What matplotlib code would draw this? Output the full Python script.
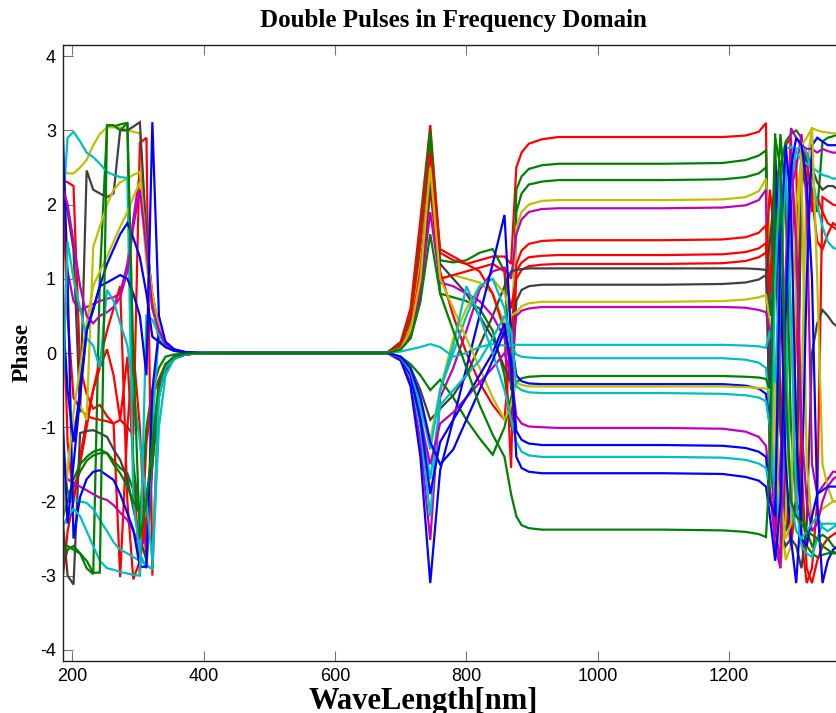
"""
Double pulses in frequency domain: phase vs wavelength, one curve per pulse pair.
"""

import numpy as np
import matplotlib.pyplot as plt

plt.rcParams["axes.unicode_minus"] = False

# ── MATLAB-style line colours ────────────────────────────────────────────────
C_B = (0.0, 0.0, 1.0)
C_G = (0.0, 0.5, 0.0)
C_R = (1.0, 0.0, 0.0)
C_C = (0.0, 0.75, 0.75)
C_M = (0.75, 0.0, 0.75)
C_Y = (0.75, 0.75, 0.0)
C_K = (0.25, 0.25, 0.25)

LINE_COLORS = [C_R, C_G, C_G, C_Y, C_M, C_R, C_R, C_R, C_K, C_K, C_Y, C_M,
               C_C, C_C, C_G, C_B, C_Y, C_C, C_M, C_B, C_C, C_B, C_G]

# ── Wavelength samples (nm), per region ──────────────────────────────────────
X_LEFT = [186, 193, 202, 212, 222, 232, 242, 253, 263, 273, 284, 293, 303,
          313, 322, 332, 342, 355, 372, 395]
X_MID = [680, 700, 715, 730, 745, 760, 780, 800, 820, 840, 858, 868, 876,
         884, 895, 915, 940]
X_PLAT = [1000, 1100, 1190, 1225, 1245, 1256]
X_RIGHT = [1262, 1270, 1278, 1286, 1294, 1302, 1310, 1318, 1326, 1334, 1342,
           1350, 1358, 1366, 1380]

# ── Phase values (rad), one row per curve ────────────────────────────────────
PHASE_LEFT = [
    [2.33, 2.30, 2.25, -0.20, -0.55, -0.75, -0.70, -0.85, -0.95, -0.90, -0.05, -1.50, -3.00, -1.20, -0.60, -0.35, -0.15, -0.06, -0.02, 0.00],
    [-2.90, -2.65, -2.60, -2.70, -2.90, -2.98, 1.00, 3.05, 3.05, 3.08, 3.10, -1.50, -2.20, -1.00, -0.50, -0.20, -0.05, -0.02, -0.01, 0.00],
    [-1.20, -1.90, -1.80, -1.60, -1.45, -1.38, -1.35, -1.35, -1.45, -1.55, -1.62, -1.85, -2.16, -2.50, -1.20, -0.50, -0.20, -0.07, -0.02, 0.00],
    [2.46, 2.42, 2.42, 2.50, 2.60, 2.80, 2.95, 3.04, 3.04, 3.04, 3.00, 2.98, 2.96, 1.30, 0.70, 0.30, 0.12, 0.04, 0.01, 0.00],
    [1.60, 1.10, 0.70, 0.58, 0.62, 0.66, 0.70, 0.73, 0.75, 0.80, 1.20, 1.80, 2.42, 1.50, 0.80, 0.35, 0.15, 0.05, 0.015, 0.00],
    [-3.00, -2.40, -2.00, -1.40, -0.90, -0.50, -0.20, 0.05, -0.30, -0.90, -1.00, -1.10, 2.83, 2.90, -3.00, -0.40, -0.20, -0.07, -0.02, 0.00],
    [2.20, 0.50, -0.60, -0.75, -0.85, -0.88, -0.90, -0.92, -0.95, -3.02, -1.00, 0.04, -1.00, -2.90, -1.50, -0.45, -0.22, -0.08, -0.02, 0.00],
    [0.90, -1.20, -1.98, -1.50, -1.00, -0.50, -0.10, 0.30, 0.60, 0.90, -2.00, -3.05, -2.80, -2.20, -1.30, -0.55, -0.25, -0.08, -0.02, 0.00],
    [2.33, 1.90, 1.39, -0.80, 2.46, 2.20, 2.15, 2.10, 2.15, 3.00, 3.00, 3.05, 3.11, 1.60, 0.70, 0.17, 0.08, 0.03, 0.01, 0.00],
    [-2.30, -3.00, -3.12, -1.08, -1.05, -1.04, -1.08, -1.13, -1.30, -1.44, -1.70, -2.10, -2.50, -2.79, -1.40, -0.50, -0.20, -0.07, -0.02, 0.00],
    [-2.00, -1.50, -1.00, -0.70, -0.90, 1.43, 1.70, 2.00, 2.20, 2.30, 2.35, 2.40, 2.44, 1.40, 0.80, 0.35, 0.12, 0.04, 0.01, 0.00],
    [-1.60, -1.70, -1.75, -1.80, -1.85, -1.90, -1.95, -1.98, -2.05, -2.15, -2.25, -2.40, -2.61, -2.50, -1.50, -0.50, -0.20, -0.05, -0.02, 0.00],
    [2.00, 2.90, 2.98, 2.85, 2.70, 2.64, 2.55, 2.44, 2.40, 2.37, 2.36, -2.00, -2.70, -2.90, -1.00, 0.30, 0.12, 0.04, 0.01, 0.00],
    [-1.85, -1.90, -1.98, -2.00, -2.02, -2.10, -2.25, -2.40, -2.55, -2.65, -2.70, -2.75, -2.80, -2.85, -2.92, -1.00, -0.30, -0.08, -0.02, 0.00],
    [-2.20, -2.00, -1.70, -1.50, -1.40, -1.33, -1.30, -1.35, -1.50, -1.62, -1.80, -2.00, -2.16, -1.90, -1.50, -0.60, -0.20, -0.06, -0.02, 0.00],
    [2.90, 1.00, -2.50, -1.94, -1.70, -1.60, -1.58, -1.65, -1.71, -1.90, -2.16, -2.38, -2.88, -2.88, -0.50, 0.30, 0.12, 0.04, 0.01, 0.00],
    [-2.20, -1.60, -0.80, -0.20, 0.40, 0.90, 1.10, 1.30, 1.50, 1.70, 1.90, 2.10, 2.30, 1.20, 0.60, 0.25, 0.10, 0.03, 0.01, 0.00],
    [-2.34, -2.20, -2.10, -2.20, -2.40, -2.60, -2.80, -2.90, -2.92, -2.95, -2.97, -2.99, -3.00, 0.50, 0.45, 0.25, 0.10, 0.03, 0.01, 0.00],
    [2.20, 2.00, 1.50, 0.90, 0.50, 0.40, 0.50, 0.55, 0.62, 0.75, 1.10, 1.70, 2.20, 1.40, 0.60, 0.30, 0.12, 0.04, 0.01, 0.00],
    [0.50, -0.50, -1.20, -0.50, 0.30, 0.58, 0.90, 1.20, 1.40, 1.60, 1.75, 1.55, 1.29, 0.80, 0.22, 0.15, 0.08, 0.03, 0.01, 0.00],
    [-0.50, 1.50, 1.00, 0.60, 0.20, 0.10, -0.20, 0.85, 0.70, 0.40, 0.10, -0.50, -1.20, -2.00, -2.80, -0.60, -0.20, -0.06, -0.02, 0.00],
    [-1.00, -2.30, -1.50, -0.60, 0.30, 0.60, 0.90, 0.95, 1.00, 1.05, 1.00, 0.80, 0.50, -0.30, 3.11, 0.50, 0.15, 0.05, 0.01, 0.00],
    [-2.65, -2.60, -2.65, -2.70, -2.80, -2.96, -2.96, 3.07, 3.07, 3.00, 3.10, 0.00, -2.50, -2.00, -1.20, -0.40, -0.15, -0.05, -0.01, 0.00],
]

PHASE_MID = [
    [0.01, 0.15, 0.6, 1.8, 3.07, 1.35, 1.25, 1.2, 1.25, 1.3, 1.3, 1.2, 2.5, 2.7, 2.82, 2.88, 2.91],
    [0.01, 0.12, 0.5, 1.6, 3.0, 1.25, 1.22, 1.25, 1.35, 1.4, 1.1, -0.5, 2.2, 2.38, 2.48, 2.53, 2.55],
    [0.0, 0.1, 0.4, 1.4, 2.9, 0.8, 0.75, 0.7, 0.6, 0.3, -0.3, -1.0, 1.9, 2.15, 2.27, 2.31, 2.33],
    [0.0, 0.08, 0.35, 1.2, 2.6, 1.0, 1.05, 1.0, 0.95, 0.8, 0.4, 0.0, 1.7, 1.9, 2.0, 2.05, 2.06],
    [0.0, -0.1, -0.4, -1.2, -2.52, -0.6, -0.2, 0.3, 0.85, 1.1, 1.15, 1.0, 1.6, 1.8, 1.9, 1.94, 1.95],
    [0.0, 0.1, 0.45, 1.5, 2.7, 1.4, 1.3, 1.2, 1.1, 0.8, 0.3, -1.55, 1.2, 1.38, 1.47, 1.51, 1.52],
    [0.0, 0.08, 0.3, 1.1, 2.4, 1.1, 0.5, 0.0, -0.4, -0.7, -0.9, 0.2, 1.1, 1.22, 1.29, 1.31, 1.32],
    [0.0, 0.06, 0.25, 0.9, 2.2, 1.0, 1.05, 1.1, 1.15, 1.2, 1.1, 0.6, 1.0, 1.12, 1.17, 1.19, 1.2],
    [0.0, -0.05, -0.2, -0.5, -0.9, -0.75, -0.57, -0.3, 0.1, 0.5, 0.9, 1.1, 1.12, 1.13, 1.14, 1.14, 1.14],
    [0.0, 0.05, 0.2, 0.7, 2.3, 1.2, 1.0, 0.8, 0.5, 0.2, -0.2, -0.4, 0.7, 0.85, 0.9, 0.92, 0.92],
    [0.0, -0.05, -0.2, -0.6, -1.17, -0.5, 0.2, 0.6, 0.9, 1.0, 0.8, 0.5, 0.55, 0.63, 0.67, 0.69, 0.69],
    [0.0, 0.05, 0.25, 0.8, 1.9, 0.95, 0.9, 0.8, 0.7, 0.5, 0.2, -0.2, 0.5, 0.57, 0.6, 0.62, 0.62],
    [0.0, 0.02, 0.05, 0.08, 0.12, 0.08, -0.05, 0.0, 0.08, 0.12, 0.1, 0.1, 0.11, 0.11, 0.11, 0.11, 0.11],
    [0.0, -0.08, -0.3, -1.0, -2.2, -0.5, 0.0, 0.5, 0.9, 1.0, 0.6, 0.1, -0.02, -0.05, -0.06, -0.07, -0.07],
    [0.0, -0.05, -0.15, -0.3, -0.5, -0.36, -0.6, -0.9, -1.15, -1.37, -1.0, -0.6, -0.4, -0.34, -0.32, -0.31, -0.31],
    [0.0, -0.1, -0.45, -1.4, -3.1, -1.58, -0.9, -0.2, 0.5, 1.2, 1.86, 0.2, -0.3, -0.38, -0.41, -0.42, -0.42],
    [0.0, 0.06, 0.3, 1.0, 2.5, 1.0, 0.6, 0.2, -0.2, -0.6, -0.9, -0.7, -0.4, -0.43, -0.45, -0.45, -0.45],
    [0.0, -0.06, -0.25, -0.8, -1.7, -0.7, -0.5, -0.3, -0.1, 0.2, 0.5, 0.3, -0.45, -0.5, -0.53, -0.54, -0.54],
    [0.0, -0.08, -0.3, -0.9, -1.5, -0.95, -0.8, -0.6, -0.4, -0.2, 0.0, -0.3, -0.85, -0.95, -0.99, -1.0, -1.01],
    [0.0, -0.07, -0.3, -0.9, -1.9, -1.2, -0.9, -0.6, -0.3, 0.0, 0.4, -0.2, -1.05, -1.17, -1.22, -1.24, -1.24],
    [0.0, -0.06, -0.25, -0.7, -1.3, -0.5, 0.1, 0.9, 0.5, 0.0, -0.5, -0.9, -1.2, -1.33, -1.38, -1.4, -1.4],
    [0.0, -0.05, -0.2, -0.6, -1.2, -1.5, -1.3, -0.9, -0.5, -0.1, 0.3, -0.1, -1.4, -1.55, -1.6, -1.62, -1.62],
    [0.0, 0.05, 0.2, 0.7, 1.6, 0.8, 0.3, -0.2, -0.7, -1.1, -1.4, -1.9, -2.2, -2.32, -2.36, -2.38, -2.38],
]

PHASE_PLAT = [
    [2.91, 2.91, 2.91, 2.93, 2.98, 3.10],
    [2.55, 2.55, 2.56, 2.60, 2.66, 2.73],
    [2.33, 2.33, 2.34, 2.37, 2.42, 2.50],
    [2.06, 2.06, 2.07, 2.10, 2.18, 2.35],
    [1.95, 1.95, 1.96, 1.99, 2.06, 2.20],
    [1.52, 1.52, 1.53, 1.56, 1.62, 1.72],
    [1.32, 1.32, 1.33, 1.36, 1.41, 1.48],
    [1.20, 1.20, 1.21, 1.24, 1.29, 1.35],
    [1.14, 1.14, 1.14, 1.14, 1.13, 1.12],
    [0.92, 0.92, 0.93, 0.95, 0.99, 1.05],
    [0.69, 0.69, 0.70, 0.72, 0.75, 0.78],
    [0.62, 0.62, 0.62, 0.61, 0.58, 0.55],
    [0.11, 0.11, 0.11, 0.10, 0.09, 0.07],
    [-0.07, -0.07, -0.07, -0.09, -0.13, -0.20],
    [-0.31, -0.31, -0.31, -0.32, -0.33, -0.35],
    [-0.42, -0.42, -0.42, -0.44, -0.48, -0.55],
    [-0.45, -0.45, -0.45, -0.46, -0.47, -0.48],
    [-0.54, -0.54, -0.55, -0.57, -0.60, -0.65],
    [-1.01, -1.01, -1.02, -1.06, -1.13, -1.25],
    [-1.24, -1.24, -1.25, -1.28, -1.33, -1.40],
    [-1.40, -1.40, -1.41, -1.44, -1.49, -1.55],
    [-1.62, -1.62, -1.63, -1.67, -1.72, -1.80],
    [-2.38, -2.38, -2.39, -2.41, -2.44, -2.48],
]

PHASE_RIGHT = [
    [-1.9, -2.3, 0.5, 2.8, 2.9, 1.0, -2.5, -3.1, -2.9, -2.0, 2.1, 2.05, 2.0, 1.98, 1.95],
    [0.5, 2.96, -1.0, -2.2, -1.8, -1.3, -2.0, -2.6, -2.7, -2.75, -2.72, -2.7, -2.68, -2.7, -2.7],
    [-1.5, -2.1, 2.5, 2.85, 2.95, 3.0, 2.9, 2.5, 2.2, 1.9, 2.85, 2.9, 2.92, 2.95, 2.95],
    [1.5, -0.5, -2.0, -2.79, -2.6, -1.8, -0.6, 2.5, 3.03, 3.0, 2.98, 2.97, 2.96, 2.95, 2.95],
    [-1.0, -2.42, -1.5, 1.0, 3.03, 2.9, 2.8, 2.75, 2.75, 2.7, 2.75, 2.72, 2.7, 2.7, 2.7],
    [0.8, 2.5, 2.3, -2.0, -2.6, -2.0, 2.8, 2.6, 1.9, 2.1, 1.9, 1.75, 1.7, 1.65, 1.6],
    [-1.0, -2.2, -2.6, 1.0, 2.5, 2.6, -1.5, -2.9, -3.1, -2.8, -2.6, -2.5, -2.45, -2.4, -2.4],
    [2.2, 1.5, -0.5, -2.2, -2.5, 0.5, 2.4, 2.6, 2.1, 1.5, 1.4, 1.6, 1.75, 1.7, 1.7],
    [-1.0, -2.0, -2.4, -2.6, -2.5, -2.6, -2.9, -2.3, 0.0, 0.4, 0.58, 0.5, 0.4, 0.35, 0.3],
    [1.5, 2.3, -1.0, -2.4, -2.2, -2.0, 2.2, 2.7, 2.5, 2.3, 2.2, 2.25, 2.25, 2.2, 2.2],
    [0.4, -1.0, -2.9, -2.2, 0.0, 2.0, 2.6, -1.5, -2.3, -2.2, -2.1, -2.05, -2.0, -2.0, -2.0],
    [0.3, -2.4, -2.8, -1.0, 2.2, 2.5, 2.95, 2.0, -1.5, -1.9, -1.8, -1.7, -1.6, -1.6, -1.6],
    [0.3, -0.4, 1.5, 2.75, 2.78, 2.7, 2.6, 2.55, 2.5, 2.45, 2.4, 2.38, 2.35, 2.35, 2.3],
    [-0.8, -1.8, -2.3, -1.0, 2.2, 2.75, 2.78, 2.7, 2.4, 2.0, 1.7, 1.5, 1.42, 1.39, 1.35],
    [-0.5, 1.5, 2.95, 2.0, -1.0, -2.0, -2.2, -2.4, -2.6, -2.5, -2.45, -2.5, -2.6, -2.65, -2.7],
    [-1.0, 2.6, 1.0, -1.5, -2.5, -3.1, -2.0, 1.0, 2.8, 2.9, 2.85, 2.8, 2.8, 2.8, 2.8],
    [-0.5, -1.5, -2.0, -2.5, -2.3, 1.0, 2.8, 2.9, 3.03, 1.0, -1.5, -1.8, -2.0, -2.0, -2.0],
    [-1.0, -2.0, 1.0, 2.5, 0.5, -2.0, -2.6, -2.7, -2.75, -2.5, -2.3, -2.3, -2.3, -2.3, -2.3],
    [-1.8, -2.6, -2.9, 1.0, 2.7, 1.5, -1.0, -2.0, -2.4, -2.3, -2.0, -1.8, -1.7, -1.65, -1.6],
    [-2.0, -2.2, 1.5, 2.8, 2.0, -1.0, -2.5, -2.6, -2.2, -1.9, -1.85, -1.8, -1.8, -1.8, -1.8],
    [-1.8, 1.0, 2.5, 0.0, -2.0, -2.4, -2.5, -2.4, -2.3, -2.2, -2.35, -2.4, -2.35, -2.3, -2.3],
    [-2.2, -2.8, -2.0, 0.5, 2.5, 2.9, 2.8, 2.3, 1.0, -2.0, -3.1, -2.8, -2.65, -2.6, -2.6],
    [-1.5, 2.9, 2.5, -0.5, -2.0, -2.2, -2.3, -2.4, -2.45, -2.5, -2.6, -2.65, -2.7, -2.7, -2.7],
]

X_TICKS = [200, 400, 600, 800, 1000, 1200]
Y_TICKS = [-4, -3, -2, -1, 0, 1, 2, 3, 4]

TITLE = "Double Pulses in Frequency Domain"
XLABEL = "WaveLength[nm]"
YLABEL = "Phase"

# ── Figure ───────────────────────────────────────────────────────────────────
W, H = 836, 713
fig = plt.figure(figsize=(W / 100, H / 100), dpi=100)

x_lo, x_hi = 186, 1378
px_per_nm = 0.657
ax_left, ax_top, ax_bottom = 63, 45, 661
ax_w = (x_hi - x_lo) * px_per_nm
ax = fig.add_axes([ax_left / W, (H - ax_bottom) / H, ax_w / W,
                   (ax_bottom - ax_top) / H])

x_all = np.concatenate([X_LEFT, X_MID, X_PLAT, X_RIGHT])
for i, color in enumerate(LINE_COLORS):
    y_all = np.concatenate([PHASE_LEFT[i], PHASE_MID[i], PHASE_PLAT[i],
                            PHASE_RIGHT[i]])
    ax.plot(x_all, y_all, color=color, lw=1.6, solid_joinstyle="miter")

ax.set_xlim(x_lo, x_hi)
ax.set_ylim(-4.15, 4.15)
ax.set_xticks(X_TICKS)
ax.set_yticks(Y_TICKS)
ax.tick_params(direction="in", length=7, width=0.8, color="#777777",
               labelsize=13, top=True, right=True, pad=5)
for lab in ax.get_xticklabels() + ax.get_yticklabels():
    lab.set_family("Liberation Sans")
for sp in ax.spines.values():
    sp.set_linewidth(1.0)
    sp.set_color("#222222")

serif = "Liberation Serif"
fig.text(453 / W, 1 - 21 / H, TITLE, ha="center", va="center",
         family=serif, fontweight="bold", fontsize=18)
fig.text(423 / W, 1 - 709 / H, XLABEL, ha="center", va="baseline",
         family=serif, fontweight="bold", fontsize=22)
fig.text(22 / W, 1 - 352 / H, YLABEL, ha="center", va="center",
         rotation=90, family=serif, fontweight="bold", fontsize=17)

fig.savefig("out.png", dpi=100)
